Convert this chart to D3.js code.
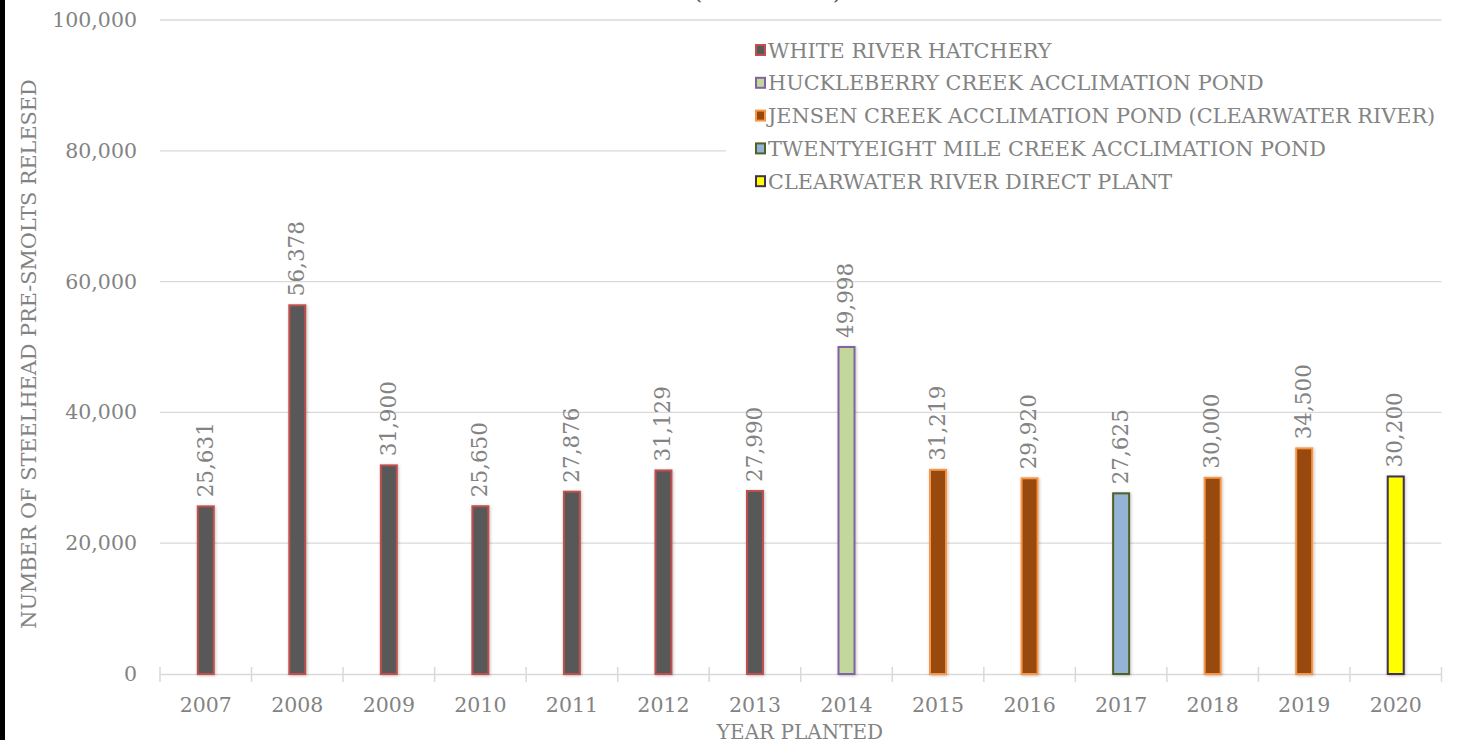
<!DOCTYPE html>
<html><head><meta charset="utf-8">
<script src="https://cdn.jsdelivr.net/npm/d3@7"></script>
<style>body{margin:0;background:#fff}svg{display:block}</style>
</head><body><svg id="c" width="1466" height="740"></svg>
<script>
const years = ["2007","2008","2009","2010","2011","2012","2013","2014","2015","2016","2017","2018","2019","2020"];
const values = [25631,56378,31900,25650,27876,31129,27990,49998,31219,29920,27625,30000,34500,30200];
const sourceIndex = [0,0,0,0,0,0,0,1,2,2,3,2,2,4];
const seriesNames = [
  "WHITE RIVER HATCHERY",
  "HUCKLEBERRY CREEK ACCLIMATION POND",
  "JENSEN CREEK ACCLIMATION POND (CLEARWATER RIVER)",
  "TWENTYEIGHT MILE CREEK ACCLIMATION POND",
  "CLEARWATER RIVER DIRECT PLANT"
];
const yTicks = [0,20000,40000,60000,80000,100000];
const titleText = "STEELHEAD PRE-SMOLT RELEASES (2007-2020)";
const yAxisTitle = "NUMBER OF STEELHEAD PRE-SMOLTS RELESED";
const xAxisTitle = "YEAR PLANTED";

const fillScale = d3.scaleOrdinal().domain(d3.range(5)).range(["#595959","#c4d79b","#984807","#95b3d7","#ffff00"]);
const strokeScale = d3.scaleOrdinal().domain(d3.range(5)).range(["#c0504d","#8064a2","#f79646","#4f6228","#403151"]);

const FONT = "'DejaVu Serif', serif";
const TXT = "#838383";
const GRID = "#d9d9d9";

const svg = d3.select("#c");
svg.append("rect").attr("width",1466).attr("height",740).attr("fill","#fff");

const defs = svg.append("defs");
const f = defs.append("filter").attr("id","sh").attr("x","-50%").attr("y","-10%").attr("width","200%").attr("height","120%");
f.append("feDropShadow").attr("dx",0.8).attr("dy",0.8).attr("stdDeviation",1.5).attr("flood-color","#000").attr("flood-opacity",0.25);

const mLeft = 160, mRight = 1441.5, mTop = 20, mBottom = 674;
const x = d3.scaleBand().domain(years).range([mLeft,mRight]).padding(0);
const y = d3.scaleLinear().domain([0,100000]).range([mBottom,mTop]);

// title (cut off at top, as in the source image)
svg.append("text").attr("x",693).attr("y",-1).attr("font-family",FONT).attr("font-size",24)
  .attr("fill","#595959").text(titleText.slice(titleText.indexOf("(")));

// gridlines
svg.append("g").selectAll("line").data(yTicks.filter(d=>d>0)).join("line")
  .attr("x1",mLeft).attr("x2",mRight).attr("y1",d=>y(d)).attr("y2",d=>y(d))
  .attr("stroke",GRID).attr("stroke-width",1.3);

// y tick labels
const yAxis = svg.append("g").attr("transform",`translate(${mLeft},0)`)
  .call(d3.axisLeft(y).tickValues(yTicks).tickFormat(d3.format(",")).tickSize(0).tickPadding(23));
yAxis.select(".domain").remove();
yAxis.selectAll("text").attr("font-family",FONT).attr("font-size",20.5).attr("fill",TXT);

// x axis
const xAxis = svg.append("g").attr("transform",`translate(0,${mBottom})`)
  .call(d3.axisBottom(x).tickSize(0).tickPadding(23));
xAxis.select(".domain").attr("stroke",GRID).attr("stroke-width",1.5);
xAxis.selectAll("text").attr("font-family",FONT).attr("font-size",20.5).attr("fill",TXT);
// boundary tick marks
svg.append("g").selectAll("line").data(years.concat(["end"])).join("line")
  .attr("x1",(d,i)=>mLeft + i*x.bandwidth()).attr("x2",(d,i)=>mLeft + i*x.bandwidth())
  .attr("y1",mBottom-7).attr("y2",mBottom+8).attr("stroke",GRID).attr("stroke-width",1.5);

// bars
const bw = 16;
svg.append("g").selectAll("rect").data(years).join("rect")
  .attr("x",d=>x(d)+x.bandwidth()/2-bw/2)
  .attr("y",(d,i)=>y(values[i]))
  .attr("width",bw)
  .attr("height",(d,i)=>mBottom-y(values[i]))
  .attr("fill",(d,i)=>fillScale(sourceIndex[i]))
  .attr("stroke",(d,i)=>strokeScale(sourceIndex[i]))
  .attr("stroke-width",2)
  .attr("filter","url(#sh)");

// value labels
const fmt = d3.format(",");
svg.append("g").selectAll("text").data(years).join("text")
  .attr("transform",(d,i)=>`translate(${x(d)+x.bandwidth()/2-1},${y(values[i])-9}) rotate(-90)`)
  .attr("dy","0.36em")
  .attr("font-family",FONT).attr("font-size",21.5).attr("fill",TXT)
  .text((d,i)=>fmt(values[i]));

// legend
const lg = svg.append("g");
lg.append("rect").attr("x",726).attr("y",28).attr("width",734).attr("height",172).attr("fill","#fff");
const items = lg.selectAll("g").data(seriesNames).join("g")
  .attr("transform",(d,i)=>`translate(756,${50 + i*32.8})`);
items.append("rect").attr("x",0).attr("y",-5).attr("width",9).attr("height",10)
  .attr("fill",(d,i)=>fillScale(i)).attr("stroke",(d,i)=>strokeScale(i)).attr("stroke-width",2);
items.append("text").attr("x",12).attr("dy","0.36em")
  .attr("font-family",FONT).attr("font-size",20.8).attr("fill",TXT).text(d=>d);

// axis titles
svg.append("text").attr("transform","translate(28,354) rotate(-90)").attr("dy","0.36em")
  .attr("text-anchor","middle").attr("font-family",FONT).attr("font-size",20.8).attr("fill",TXT).text(yAxisTitle);
svg.append("text").attr("x",800).attr("y",739).attr("text-anchor","middle")
  .attr("font-family",FONT).attr("font-size",20).attr("fill",TXT).text(xAxisTitle);

// left frame border
svg.append("rect").attr("x",0).attr("y",0).attr("width",5).attr("height",740).attr("fill","#000");
</script></body></html>
